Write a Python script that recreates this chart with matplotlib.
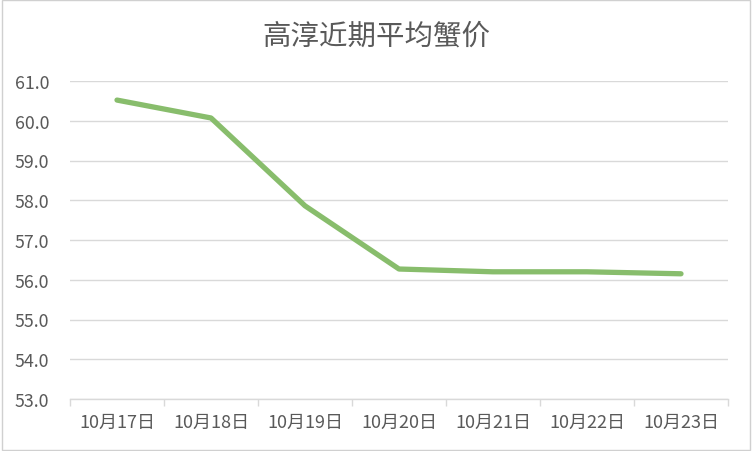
import numpy as np
import matplotlib
matplotlib.use("Agg")
import matplotlib.pyplot as plt

plt.rcParams["font.family"] = ["Noto Sans CJK SC", "DejaVu Sans"]

DATES = ["10月17日", "10月18日", "10月19日", "10月20日", "10月21日", "10月22日", "10月23日"]
PRICES = [60.52, 60.07, 57.86, 56.27, 56.20, 56.20, 56.15]
Y_TICKS = [53.0, 54.0, 55.0, 56.0, 57.0, 58.0, 59.0, 60.0, 61.0]

GRID = "#D9D9D9"
TEXT = "#595959"
LINE = "#88BD6C"

fig = plt.figure(figsize=(7.52, 4.52), dpi=100)
ax = fig.add_axes([70 / 752, 52 / 452, 658 / 752, 318 / 452])

x = np.arange(len(DATES))
ax.plot(x, PRICES, color=LINE, linewidth=3.8, solid_capstyle="round",
        solid_joinstyle="round", zorder=3)

ax.set_xlim(-0.5, len(DATES) - 0.5)
ax.set_ylim(Y_TICKS[0], Y_TICKS[-1])
ax.set_yticks(Y_TICKS)
ax.set_yticklabels([f"{v:.1f}" for v in Y_TICKS], fontsize=12.8, color=TEXT)
ax.set_xticks(x)
ax.set_xticklabels(DATES, fontsize=13, color=TEXT)
ax.set_xticks(np.arange(len(DATES) + 1) - 0.5, minor=True)
ax.tick_params(axis="x", which="major", length=0, pad=10)
ax.tick_params(axis="x", which="minor", length=5, width=1, color=GRID)
ax.tick_params(axis="y", length=0, pad=15)

ax.grid(axis="y", color=GRID, linewidth=1)
ax.set_axisbelow(True)
for side in ["top", "right", "left"]:
    ax.spines[side].set_visible(False)
ax.spines["bottom"].set_color(GRID)
ax.spines["bottom"].set_linewidth(1)

fig.text(376 / 752, 1 - 37 / 452, "高淳近期平均蟹价", fontsize=20.5, color=TEXT,
         ha="center", va="center")

# light frame around the chart
fig.patches.append(plt.Rectangle((0.002, 0.003), 0.996, 0.994, transform=fig.transFigure,
                                 fill=False, edgecolor="#D0D0D0", linewidth=1))

fig.savefig("out.png", dpi=100)
